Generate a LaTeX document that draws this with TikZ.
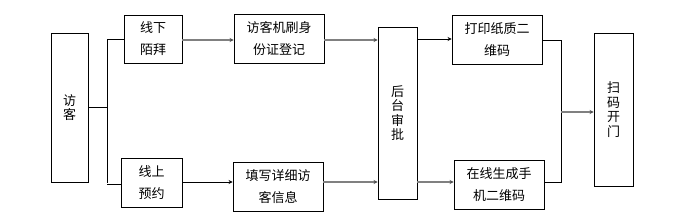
\documentclass[tikz,border=0pt]{standalone}
\usepackage{fontspec}
\setmainfont{Noto Sans CJK SC}
\usetikzlibrary{arrows.meta}
\begin{document}
\begin{tikzpicture}[x=1pt,y=-1pt,
  box/.style={draw=black,line width=0.9pt,inner sep=0pt,font=\fontsize{13}{22}\selectfont,align=center},
  vbox/.style={draw=black,line width=0.9pt,inner sep=0pt,font=\fontsize{13}{14.5}\selectfont,align=center},
  garrow/.style={draw=black!50,line width=1.4pt,-{Stealth[length=4pt,width=4pt,black!70]}},
  barrow/.style={draw=black,line width=0.9pt,-{Stealth[length=4pt,width=4pt]}},
  bline/.style={draw=black,line width=0.9pt},
  gline/.style={draw=black!50,line width=1.4pt}]
\useasboundingbox (0,0) rectangle (688,223);
\node[vbox,minimum width=37pt,minimum height=149pt] (fk) at (69.5,107.5) {访\\客};
\node[box,minimum width=58pt,minimum height=48pt] (xx) at (153,39) {线下\\陌拜};
\node[box,minimum width=61pt,minimum height=49pt] (xs) at (151.5,182.5) {线上\\预约};
\node[box,minimum width=90pt,minimum height=49pt] (sf) at (279,38.5) {访客机刷身\\份证登记};
\node[box,minimum width=90pt,minimum height=49pt] (tx) at (278,186.5) {填写详细访\\客信息};
\node[vbox,minimum width=39pt,minimum height=172pt] (ht) at (397.5,113) {后\\台\\审\\批};
\node[box,minimum width=90pt,minimum height=49pt] (dy) at (497,39.5) {打印纸质二\\维码};
\node[box,minimum width=90pt,minimum height=49pt] (zx) at (499,184.5) {在线生成手\\机二维码};
\node[vbox,minimum width=39pt,minimum height=153pt] (sm) at (613.5,109.5) {扫\\码\\开\\门};
\coordinate (j1) at (107,107);
\coordinate (j2) at (561,112);
\draw[bline] (fk.east |- j1) -- (j1);
\draw[bline] (j1 |- xx.west) -- (j1 |- xs.west);
\draw[bline] (j1 |- xx.west) -- (xx.west);
\draw[bline] (j1 |- 0,184) -- (xs.west |- 0,184);
\draw[garrow] (xx.east |- 0,40) -- (sf.west |- 0,40);
\draw[barrow] (xs.east |- 0,182) -- (tx.west |- 0,182);
\draw[garrow] (sf.east |- 0,40) -- (ht.west |- 0,40);
\draw[garrow] (tx.east |- 0,182) -- (ht.west |- 0,182);
\draw[barrow] (ht.east |- 0,39) -- (dy.west |- 0,39);
\draw[garrow] (ht.east |- 0,182) -- (zx.west |- 0,182);
\draw[bline] (dy.east |- 0,40) -- (j2 |- 0,40) -- (j2 |- 0,182) -- (zx.east |- 0,182);
\draw[garrow] (j2) -- (sm.west |- j2);
\end{tikzpicture}
\end{document}
